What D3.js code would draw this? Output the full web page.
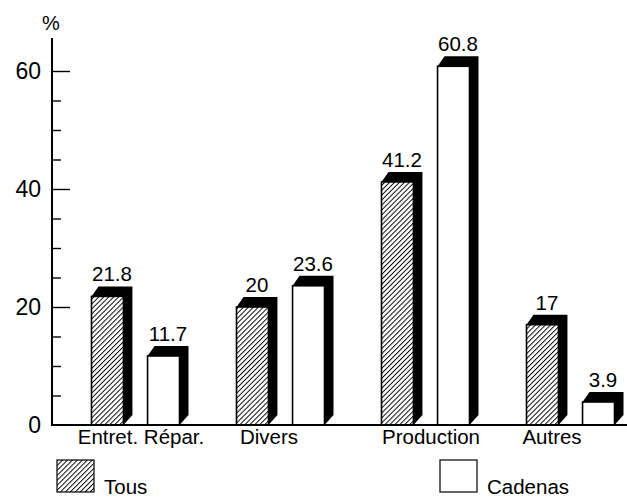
<!DOCTYPE html>
<html>
<head>
<meta charset="utf-8">
<script src="https://cdn.jsdelivr.net/npm/d3@7"></script>
<style>
  html, body { margin: 0; padding: 0; background: #fff; }
  svg { display: block; font-family: "Liberation Sans", Arial, Helvetica, sans-serif; }
</style>
</head>
<body>
<svg id="chart" width="627" height="500"></svg>
<script>
// Categories, series and values
const categories = ["Entret. Répar.", "Divers", "Production", "Autres"];
const seriesNames = ["Tous", "Cadenas"];
const tousValues = [21.8, 20, 41.2, 17];
const cadenasValues = [11.7, 23.6, 60.8, 3.9];
const yTickValues = [0, 20, 40, 60];
const yMinorTicks = [5, 10, 15, 25, 30, 35, 45, 50, 55];

// Horizontal nudge of each category caption from its group centre
const captionShift = [5, -12, 5, -19];

const svg = d3.select("#chart");

// Pattern for the hatched series
const defs = svg.append("defs");
const pat = defs.append("pattern")
  .attr("id", "hatch")
  .attr("patternUnits", "userSpaceOnUse")
  .attr("width", 3.5).attr("height", 3.5)
  .attr("patternTransform", "rotate(45)");
pat.append("rect").attr("width", 3.5).attr("height", 3.5).attr("fill", "#fff");
pat.append("line").attr("x1", 0).attr("y1", 0).attr("x2", 0).attr("y2", 3.5)
  .attr("stroke", "#000").attr("stroke-width", 1.9);

const baseY = 425;
const axisX = 52;

const y = d3.scaleLinear().domain([0, 60]).range([baseY, 71]);

const x0 = d3.scaleBand().domain(categories).range([63.5, 643.5]);
const x1 = d3.scaleBand().domain(seriesNames).range([28, 116]).paddingInner(0.43);

const depthX = 9, depthY = 10;

const rows = categories.map((c, i) => ({
  cat: c,
  bars: [
    { series: "Tous", value: tousValues[i] },
    { series: "Cadenas", value: cadenasValues[i] }
  ]
}));

// Axis: minor ticks, major ticks, labels
const axisG = svg.append("g").attr("transform", `translate(${axisX},0)`);
axisG.append("line").attr("x1", 0).attr("x2", 0).attr("y1", 38).attr("y2", baseY + 1)
  .attr("stroke", "#000").attr("stroke-width", 2);

const minorAxis = d3.axisRight(y).tickValues(yMinorTicks).tickSize(9).tickFormat("");
const majorAxis = d3.axisRight(y).tickValues(yTickValues.filter(v => v > 0)).tickSize(18).tickFormat("");
const labelAxis = d3.axisLeft(y).tickValues(yTickValues).tickSize(0).tickPadding(11);

[minorAxis, majorAxis].forEach(ax => {
  const g = axisG.append("g").call(ax);
  g.select(".domain").remove();
  g.selectAll("line").attr("stroke", "#000").attr("stroke-width", 1.4);
});
const lg = axisG.append("g").call(labelAxis);
lg.select(".domain").remove();
lg.selectAll("text").attr("font-size", 23).attr("fill", "#000")
  .attr("font-family", "Liberation Sans, Arial, sans-serif");

svg.append("text").attr("x", 51).attr("y", 30).attr("text-anchor", "middle")
  .attr("font-size", 20).text("%");

// Bars
const groups = svg.selectAll("g.grp").data(rows).enter().append("g")
  .attr("class", "grp")
  .attr("transform", d => `translate(${x0(d.cat)},0)`);

const bar = groups.selectAll("g.bar").data(d => d.bars).enter().append("g").attr("class", "bar");

bar.append("path")
  .attr("fill", "#000")
  .attr("d", d => {
    const xa = x1(d.series), w = x1.bandwidth(), yt = y(d.value);
    return `M${xa},${yt} L${xa + depthX - 2},${yt - depthY} L${xa + w + depthX},${yt - depthY} ` +
           `L${xa + w + depthX},${baseY - depthY} L${xa + w},${baseY} L${xa + w},${yt} Z`;
  });

bar.append("rect")
  .attr("x", d => x1(d.series))
  .attr("y", d => y(d.value))
  .attr("width", x1.bandwidth())
  .attr("height", d => baseY - y(d.value))
  .attr("fill", d => d.series === "Tous" ? "url(#hatch)" : "#fff")
  .attr("stroke", "#000").attr("stroke-width", 1.6);

bar.append("text")
  .attr("x", d => x1(d.series) + (x1.bandwidth() + depthX) / 2)
  .attr("y", d => y(d.value) - depthY - 5)
  .attr("text-anchor", "middle")
  .attr("font-size", 20.5)
  .text(d => String(d.value));

// Baseline
svg.append("line").attr("x1", axisX - 1).attr("x2", 627).attr("y1", baseY).attr("y2", baseY)
  .attr("stroke", "#000").attr("stroke-width", 2.2);

// Category labels
svg.selectAll("text.cat").data(categories).enter().append("text")
  .attr("class", "cat")
  .attr("x", (d, i) => x0(d) + x0.bandwidth() / 2 + captionShift[i])
  .attr("y", 444)
  .attr("text-anchor", "middle")
  .attr("font-size", 20.5)
  .text(d => d);

// Legend
const legend = svg.append("g");
const legendItems = [
  { name: seriesNames[0], fill: "url(#hatch)", x: 57 },
  { name: seriesNames[1], fill: "#fff", x: 440 }
];
const li = legend.selectAll("g").data(legendItems).enter().append("g")
  .attr("transform", d => `translate(${d.x},460)`);
li.append("rect").attr("width", 37).attr("height", 32)
  .attr("fill", d => d.fill).attr("stroke", "#000").attr("stroke-width", 1.2);
li.append("text").attr("x", 47).attr("y", 34).attr("font-size", 20.5).text(d => d.name);
</script>
</body>
</html>
